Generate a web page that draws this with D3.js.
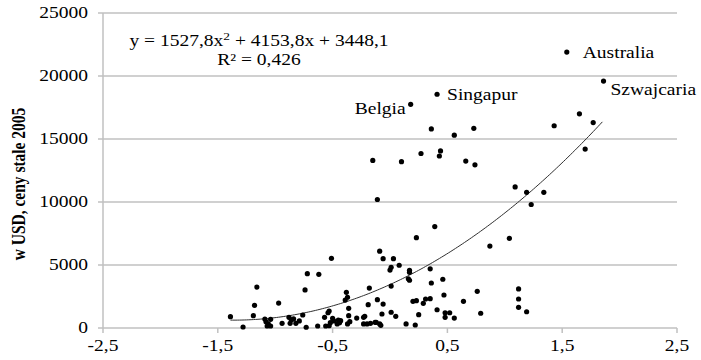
<!DOCTYPE html>
<html lang="pl">
<head>
    <meta charset="UTF-8">
    <title>PKB per capita - wykres rozrzutu</title>
    <style>
        body { margin: 0; background: #fff; }
    </style>
    <script src="https://cdn.jsdelivr.net/npm/d3@7"></script>
</head>
<body>
    <svg id="chart" width="701" height="360" font-family="'Liberation Serif', 'Times New Roman', Times, 'DejaVu Serif', serif"></svg>

    <script>
        // index values (x) and GDP per capita (y)
        const indexVals = [
            -1.39, -1.28, -1.16, -1.18, -1.19, -0.97, -1.09, -1.08, -1.06, -1.04, -1.07, -1.04,
            -0.94, -0.88, -0.86, -0.84, -0.87, -0.82, -0.79, -0.76, -0.74, -0.72, -0.62, -0.73,
            -0.63, -0.56, -0.53, -0.52, -0.57, -0.54, -0.53, -0.51, -0.50, -0.49, -0.45, -0.44,
            -0.46, -0.43, -0.38, -0.37, -0.39, -0.36, -0.36, -0.35, -0.37, -0.29, -0.22, -0.23,
            -0.23, -0.20, -0.17, -0.13, -0.12, -0.09, -0.08, -0.18, -0.19, -0.11, -0.06, -0.07,
            -0.15, -0.11, -0.09, -0.06, 0.03, 0.01, 0.00, 0.08, 0.01, 0.01, 0.05, 0.10,
            0.14, 0.17, 0.17, 0.16, 0.17, 0.20, 0.23, 0.22, 0.23, 0.25, 0.27, 0.29,
            0.31, 0.35, 0.35, 0.36, 0.36, 0.39, 0.41, 0.43, 0.44, 0.46, 0.47, 0.48,
            0.52, 0.48, 0.56, 0.56, 0.64, 0.66, 0.73, 0.74, 0.76, 0.79, 0.87, 1.04,
            1.09, 1.12, 1.12, 1.12, 1.19, 1.19, 1.23, 1.34, 1.43, 1.65, 1.70, 1.77
        ];
        const gdpVals = [
            900, 80, 3250, 1800, 980, 1980, 710, 500, 320, 690, 160, 160,
            370, 850, 640, 720, 370, 370, 560, 1030, 3020, 4310, 4260, 60,
            160, 160, 180, 420, 850, 1210, 1350, 5530, 770, 560, 630, 420,
            320, 580, 2830, 2440, 2220, 1560, 980, 500, 320, 790, 930, 850,
            320, 320, 370, 450, 450, 320, 210, 3170, 1850, 2250, 1900, 1110,
            13300, 10200, 6100, 5500, 5500, 4820, 4600, 4980, 3330, 1250, 930, 13200,
            320, 4580, 4420, 3910, 3790, 2120, 2170, 240, 7170, 1060, 13850, 1960,
            2300, 2330, 4700, 3570, 15800, 8050, 1450, 13650, 14050, 3870, 2620, 1210,
            1210, 850, 790, 15300, 2120, 13250, 15850, 12950, 2910, 1170, 6500, 7120,
            11200, 3100, 2300, 1640, 1290, 10770, 9800, 10770, 16050, 17000, 14200, 16300
        ];

        // named countries
        const labelNames = ["Australia", "Szwajcaria", "Singapur", "Belgia"];
        const labelX = [1.54, 1.86, 0.41, 0.18];
        const labelY = [21900, 19600, 18550, 17750];

        // trend line coefficients (y = a x^2 + b x + c)
        const trendCoef = [1527.8, 4153.8, 3448.1];
        const trendRange = [-1.39, 1.86];

        const xTicks = [-2.5, -1.5, -0.5, 0.5, 1.5, 2.5];
        const yTicks = [0, 5000, 10000, 15000, 20000, 25000];
        const yTitle = "w USD, ceny stale 2005";

        const fmt = d => String(d).replace(".", ",");
        const stretch = 1.22;   // text in the picture is wider than normal

        const svg = d3.select("#chart");
        const x = d3.scaleLinear().domain([-2.5, 2.5]).range([103, 677]);
        const y = d3.scaleLinear().domain([0, 25000]).range([328, 13]);

        // horizontal grid
        svg.append("g")
            .selectAll("line")
            .data(yTicks)
            .join("line")
            .attr("x1", 98)
            .attr("x2", x(2.5))
            .attr("y1", d => y(d))
            .attr("y2", d => y(d))
            .attr("stroke", "#c0c0c0")
            .attr("stroke-width", 1.5);

        // vertical axis line
        svg.append("line")
            .attr("x1", x(-2.5)).attr("x2", x(-2.5))
            .attr("y1", y(25000)).attr("y2", y(0))
            .attr("stroke", "#c0c0c0")
            .attr("stroke-width", 1.5);

        // x tick marks
        svg.append("g")
            .selectAll("line")
            .data(xTicks)
            .join("line")
            .attr("x1", d => x(d)).attr("x2", d => x(d))
            .attr("y1", y(0)).attr("y2", y(0) + 5)
            .attr("stroke", "#c0c0c0")
            .attr("stroke-width", 1.5);

        // y tick labels
        svg.append("g")
            .selectAll("text")
            .data(yTicks)
            .join("text")
            .attr("transform", d => `translate(88, ${y(d) + 5}) scale(${stretch}, 1)`)
            .attr("text-anchor", "end")
            .attr("font-size", 16)
            .text(d => d);

        // x tick labels
        svg.append("g")
            .selectAll("text")
            .data(xTicks)
            .join("text")
            .attr("transform", d => `translate(${x(d)}, 351) scale(${stretch}, 1)`)
            .attr("text-anchor", "middle")
            .attr("font-size", 16)
            .text(d => fmt(d));

        // y axis title
        svg.append("text")
            .attr("transform", `translate(25, 184) rotate(-90) scale(1, ${stretch})`)
            .attr("text-anchor", "middle")
            .attr("font-size", 15.5)
            .attr("font-weight", "bold")
            .text(yTitle);

        // trend curve
        const trend = d3.range(trendRange[0], trendRange[1] + 0.001, 0.02)
            .map(v => [v, trendCoef[0] * v * v + trendCoef[1] * v + trendCoef[2]]);
        svg.append("path")
            .datum(trend)
            .attr("fill", "none")
            .attr("stroke", "#303030")
            .attr("stroke-width", 1)
            .attr("d", d3.line().x(d => x(d[0])).y(d => y(d[1])));

        // points
        const points = indexVals.map((v, i) => [v, gdpVals[i]])
            .concat(labelX.map((v, i) => [v, labelY[i]]));
        svg.append("g")
            .selectAll("circle")
            .data(points)
            .join("circle")
            .attr("cx", d => x(d[0]))
            .attr("cy", d => y(d[1]))
            .attr("r", 2.6)
            .attr("fill", "#000");

        // country labels
        const labelPos = [
            { dx: 16, dy: 6, anchor: "start" },
            { dx: 7, dy: 14, anchor: "start" },
            { dx: 10, dy: 6, anchor: "start" },
            { dx: -5, dy: 10, anchor: "end" }
        ];
        svg.append("g")
            .selectAll("text")
            .data(labelNames)
            .join("text")
            .attr("transform", (d, i) =>
                `translate(${x(labelX[i]) + labelPos[i].dx}, ${y(labelY[i]) + labelPos[i].dy}) scale(${stretch}, 1)`)
            .attr("text-anchor", (d, i) => labelPos[i].anchor)
            .attr("font-size", 16)
            .text(d => d);

        // equation
        const eq = svg.append("text")
            .attr("transform", `translate(259, 46) scale(${stretch}, 1)`)
            .attr("text-anchor", "middle")
            .attr("font-size", 16);
        eq.append("tspan").text("y = " + fmt(trendCoef[0]) + "x");
        eq.append("tspan").attr("dy", -6).attr("font-size", 11).text("2");
        eq.append("tspan").attr("dy", 6).text(" + " + fmt(trendCoef[1]) + "x + " + fmt(trendCoef[2]));

        svg.append("text")
            .attr("transform", `translate(259, 65) scale(${stretch}, 1)`)
            .attr("text-anchor", "middle")
            .attr("font-size", 16)
            .text("R² = 0,426");
    </script>
</body>
</html>
